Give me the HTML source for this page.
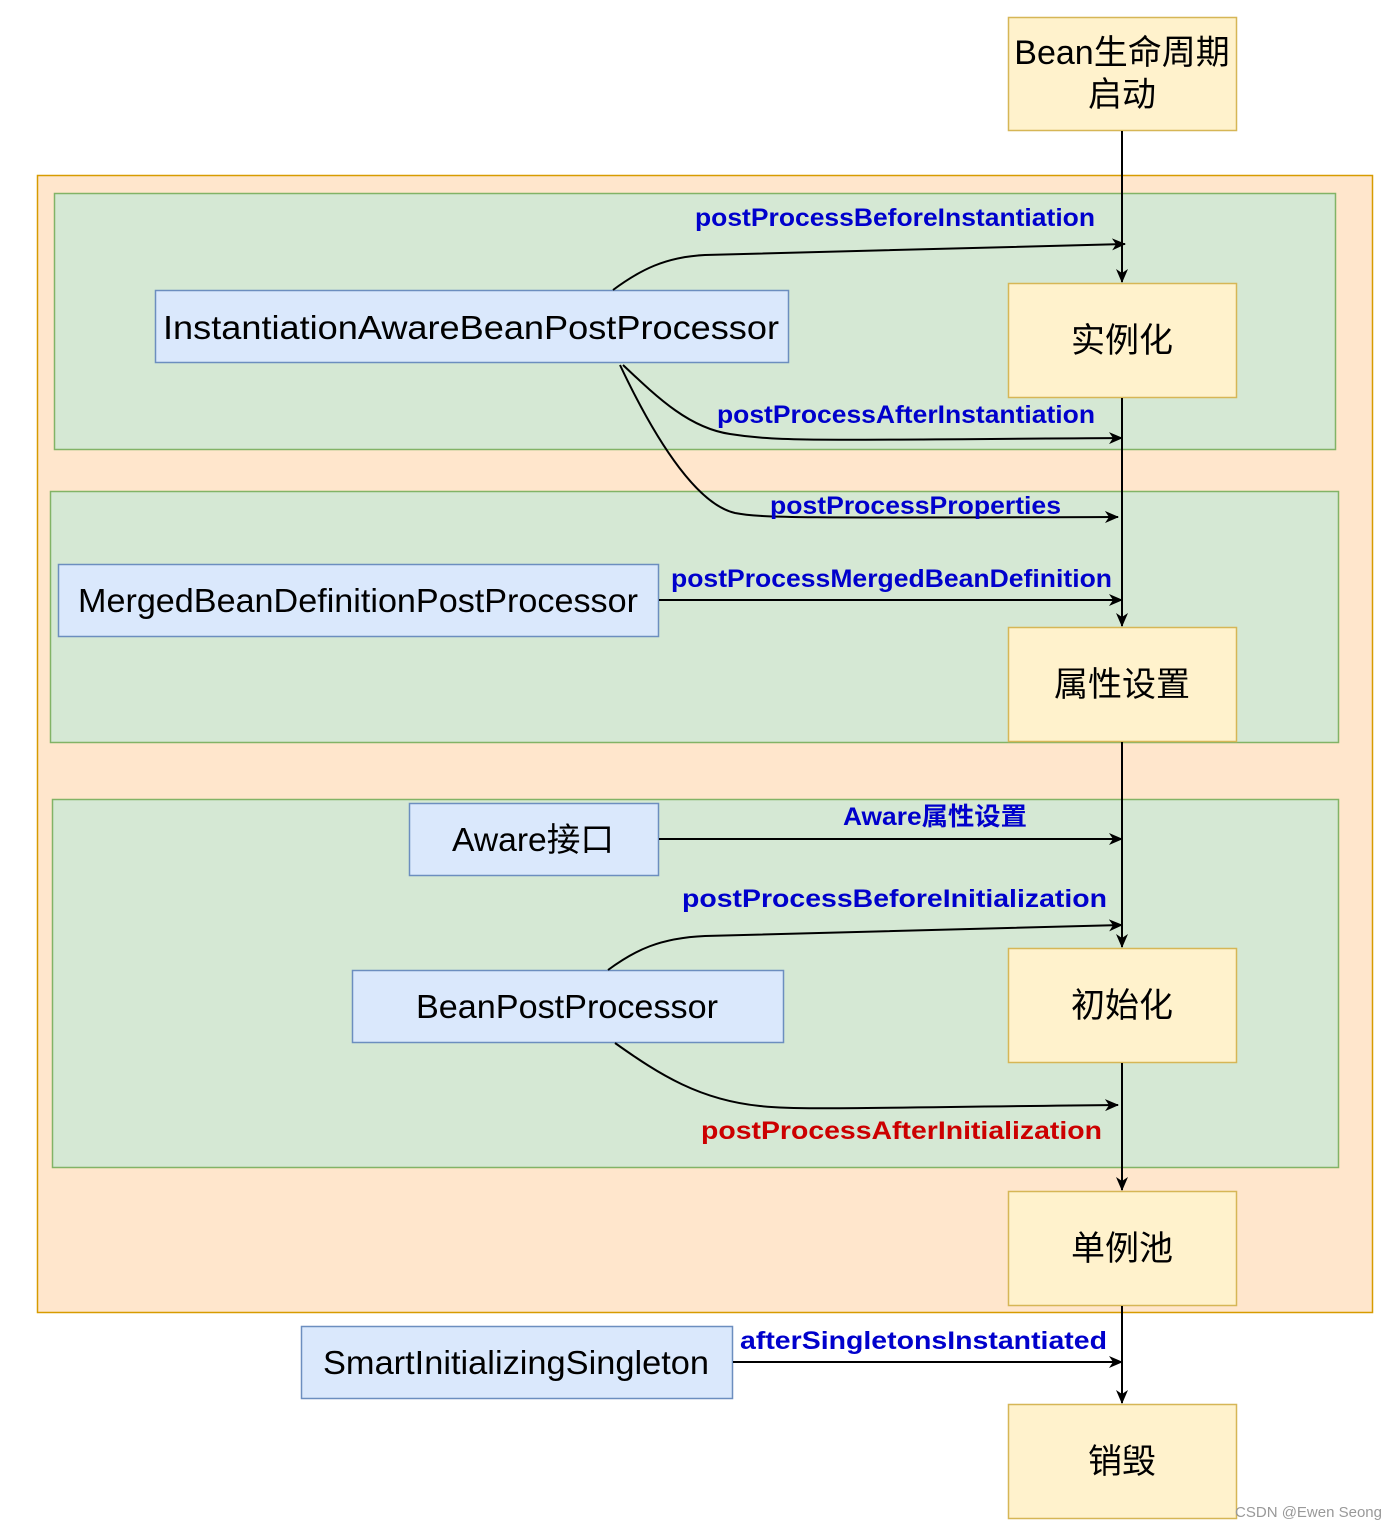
<!DOCTYPE html>
<html><head><meta charset="utf-8"><style>
html,body{margin:0;padding:0;background:#fff;}
svg{display:block;}
.cn{font-family:"Liberation Sans","Noto Sans CJK SC",sans-serif;font-size:34px;fill:#000;}
.bx{font-family:"Liberation Sans","Noto Sans CJK SC",sans-serif;font-size:33px;fill:#000;}
.lb{font-family:"Liberation Sans","Noto Sans CJK SC",sans-serif;font-size:25px;font-weight:bold;fill:#0000cc;}
</style></head><body>
<svg width="1398" height="1530" viewBox="0 0 1398 1530" xmlns="http://www.w3.org/2000/svg">
<defs>
<marker id="a" markerWidth="14" markerHeight="12" refX="13" refY="6" orient="auto" markerUnits="userSpaceOnUse">
<path d="M0,0 L14,6 L0,12 L4,6 Z" fill="#000"/></marker>
</defs>
<rect x="0" y="0" width="1398" height="1530" fill="#fff"/>
<rect x="37.5" y="175.5" width="1335" height="1137" fill="#ffe6cc" stroke="#d79b00" stroke-width="1.5"/>
<rect x="54.5" y="193.5" width="1281" height="256" fill="#d5e8d4" stroke="#82b366" stroke-width="1.5"/>
<rect x="50.5" y="491.5" width="1288" height="251" fill="#d5e8d4" stroke="#82b366" stroke-width="1.5"/>
<rect x="52.5" y="799.5" width="1286" height="368" fill="#d5e8d4" stroke="#82b366" stroke-width="1.5"/>

<g fill="#fff2cc" stroke="#d6b656" stroke-width="1.5">
<rect x="1008.5" y="17.5" width="228" height="113"/>
<rect x="1008.5" y="283.5" width="228" height="114"/>
<rect x="1008.5" y="627.5" width="228" height="114"/>
<rect x="1008.5" y="948.5" width="228" height="114"/>
<rect x="1008.5" y="1191.5" width="228" height="114"/>
<rect x="1008.5" y="1404.5" width="228" height="114"/>
</g>
<text class="cn" x="1122" y="64" text-anchor="middle">Bean生命周期</text>
<text class="cn" x="1122" y="106" text-anchor="middle">启动</text>
<text class="cn" x="1122" y="352" text-anchor="middle">实例化</text>
<text class="cn" x="1122" y="696" text-anchor="middle">属性设置</text>
<text class="cn" x="1122" y="1017" text-anchor="middle">初始化</text>
<text class="cn" x="1122" y="1260" text-anchor="middle">单例池</text>
<text class="cn" x="1122" y="1473" text-anchor="middle">销毁</text>

<g fill="#dae8fc" stroke="#6c8ebf" stroke-width="1.5">
<rect x="155.5" y="290.5" width="633" height="72"/>
<rect x="58.5" y="564.5" width="600" height="72"/>
<rect x="409.5" y="803.5" width="249" height="72"/>
<rect x="352.5" y="970.5" width="431" height="72"/>
<rect x="301.5" y="1326.5" width="431" height="72"/>
</g>
<text class="bx" x="471" y="339" text-anchor="middle" textLength="616" lengthAdjust="spacingAndGlyphs">InstantiationAwareBeanPostProcessor</text>
<text class="bx" x="358" y="612" text-anchor="middle" textLength="560" lengthAdjust="spacingAndGlyphs">MergedBeanDefinitionPostProcessor</text>
<text class="bx" x="533" y="851" text-anchor="middle" textLength="162" lengthAdjust="spacingAndGlyphs">Aware接口</text>
<text class="bx" x="567" y="1018" text-anchor="middle" textLength="302" lengthAdjust="spacingAndGlyphs">BeanPostProcessor</text>
<text class="bx" x="516" y="1374" text-anchor="middle" textLength="386" lengthAdjust="spacingAndGlyphs">SmartInitializingSingleton</text>

<g stroke="#000" stroke-width="2" fill="none">
<line x1="1122" y1="131" x2="1122" y2="282" marker-end="url(#a)"/>
<line x1="1122" y1="398" x2="1122" y2="626" marker-end="url(#a)"/>
<line x1="1122" y1="742" x2="1122" y2="947" marker-end="url(#a)"/>
<line x1="1122" y1="1063" x2="1122" y2="1190" marker-end="url(#a)"/>
<line x1="1122" y1="1306" x2="1122" y2="1403" marker-end="url(#a)"/>

<path d="M613,290 C640,270 665,257 705,255 L1125,244" marker-end="url(#a)"/>
<path d="M623,365 C660,400 690,428 730,434 C780,442 820,440 1122,438" marker-end="url(#a)"/>
<path d="M620,365 C660,450 700,505 735,513 C760,518 800,518 1118,517" marker-end="url(#a)"/>
<line x1="659" y1="600" x2="1122" y2="600" marker-end="url(#a)"/>
<line x1="659" y1="839" x2="1122" y2="839" marker-end="url(#a)"/>
<path d="M608,970 C635,950 660,938 705,936 L1122,925" marker-end="url(#a)"/>
<path d="M615,1043 C660,1075 700,1100 760,1106 C800,1110 840,1108 1118,1105" marker-end="url(#a)"/>
<line x1="733" y1="1362" x2="1122" y2="1362" marker-end="url(#a)"/>
</g>

<text class="lb" x="1095" y="226" text-anchor="end" textLength="400" lengthAdjust="spacingAndGlyphs">postProcessBeforeInstantiation</text>
<text class="lb" x="1095" y="423" text-anchor="end" textLength="378" lengthAdjust="spacingAndGlyphs">postProcessAfterInstantiation</text>
<text class="lb" x="1061" y="514" text-anchor="end" textLength="291" lengthAdjust="spacingAndGlyphs">postProcessProperties</text>
<text class="lb" x="1112" y="587" text-anchor="end" textLength="441" lengthAdjust="spacingAndGlyphs">postProcessMergedBeanDefinition</text>
<text class="lb" x="1027" y="825" text-anchor="end" textLength="184" lengthAdjust="spacingAndGlyphs">Aware属性设置</text>
<text class="lb" x="1107" y="907" text-anchor="end" textLength="425" lengthAdjust="spacingAndGlyphs">postProcessBeforeInitialization</text>
<text class="lb" x="1102" y="1139" text-anchor="end" textLength="401" lengthAdjust="spacingAndGlyphs" style="fill:#cc0000">postProcessAfterInitialization</text>
<text class="lb" x="1107" y="1349" text-anchor="end" textLength="367" lengthAdjust="spacingAndGlyphs">afterSingletonsInstantiated</text>

<text x="1382" y="1517" text-anchor="end" font-family="Liberation Sans, sans-serif" font-size="15" fill="#999">CSDN @Ewen Seong</text>
</svg>
</body></html>
